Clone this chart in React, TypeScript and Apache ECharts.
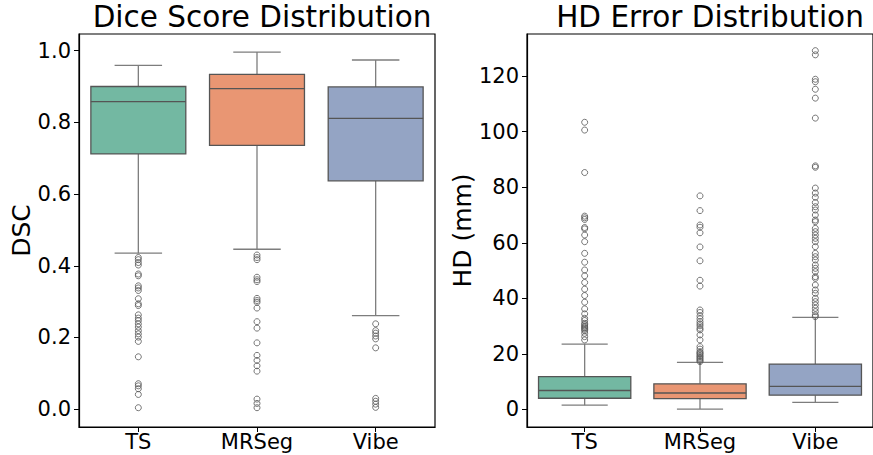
import React, { useEffect, useRef } from "react";
import * as echarts from "echarts";

const categories = ["TS", "MRSeg", "Vibe"];
const boxColors = ["#73b8a2", "#e99673", "#94a4c4"];

// [min whisker, Q1, median, Q3, max whisker]
const dscBoxes = [
  [0.435, 0.712, 0.858, 0.900, 0.959],
  [0.446, 0.736, 0.894, 0.934, 0.996],
  [0.261, 0.637, 0.811, 0.899, 0.974],
];
const dscOutliersTS = [0.423, 0.417, 0.409, 0.402, 0.377, 0.372, 0.344, 0.338, 0.331, 0.308, 0.294, 0.289, 0.263, 0.254, 0.247, 0.238, 0.229, 0.219, 0.210, 0.201, 0.189, 0.146, 0.071, 0.065, 0.057, 0.041, 0.004];
const dscOutliersMRSeg = [0.430, 0.423, 0.417, 0.368, 0.361, 0.356, 0.309, 0.303, 0.298, 0.282, 0.244, 0.226, 0.185, 0.150, 0.136, 0.121, 0.106, 0.028, 0.016, 0.004];
const dscOutliersVibe = [0.238, 0.219, 0.212, 0.204, 0.196, 0.171, 0.030, 0.022, 0.014, 0.005];

const hdBoxes = [
  [1.5, 4.0, 6.8, 11.8, 23.5],
  [0.1, 3.9, 5.9, 9.2, 16.9],
  [2.5, 5.1, 8.3, 16.3, 33.1],
];
const hdOutliersTS = [103.4, 100.6, 85.3, 69.6, 69.0, 68.4, 65.5, 65.0, 62.8, 60.4, 56.2, 53.0, 50.2, 48.1, 45.7, 43.3, 41.0, 38.6, 36.2, 34.4, 32.8, 32.0, 31.0, 30.5, 30.0, 29.6, 29.2, 28.8, 28.3, 27.4, 26.2, 25.0];
const hdOutliersMRSeg = [76.9, 71.6, 66.4, 65.6, 63.6, 58.5, 53.5, 46.5, 44.4, 35.8, 34.9, 33.6, 32.6, 31.6, 30.8, 30.1, 29.2, 28.6, 26.8, 25.0, 22.6, 21.7, 20.8, 20.3, 20.0, 19.4, 19.0, 18.5, 18.1, 17.6, 17.2];
const hdOutliersVibe = [129.2, 127.7, 118.9, 118.0, 115.3, 112.1, 104.9, 87.7, 87.2, 79.7, 77.9, 76.4, 74.5, 73.0, 71.8, 70.0, 68.2, 67.6, 65.2, 64.0, 62.8, 61.6, 60.4, 58.6, 56.2, 55.0, 53.8, 52.0, 50.8, 49.6, 47.8, 47.2, 44.8, 43.0, 41.8, 40.0, 38.8, 37.6, 36.4, 35.2, 34.0, 33.4];

const dscTicks = [0.0, 0.2, 0.4, 0.6, 0.8, 1.0];
const hdTicks = [0, 20, 40, 60, 80, 100, 120];

const FONT = "DejaVu Sans";
const LINE = "#555555";
const WHISKER = "#7d7d7d";

function boxRender(params: any, api: any) {
  const idx = api.value(0);
  const mn = api.value(1), q1 = api.value(2), med = api.value(3), q3 = api.value(4), mx = api.value(5);
  const band = api.size([1, 0])[0];
  const w = band * 0.8;
  const cx = api.coord([idx, med])[0];
  const yq1 = api.coord([idx, q1])[1];
  const yq3 = api.coord([idx, q3])[1];
  const ymed = api.coord([idx, med])[1];
  const ymin = api.coord([idx, mn])[1];
  const ymax = api.coord([idx, mx])[1];
  const ws = { stroke: WHISKER, lineWidth: 1.3 };
  return {
    type: "group",
    children: [
      { type: "line", shape: { x1: cx, y1: yq3, x2: cx, y2: ymax }, style: ws },
      { type: "line", shape: { x1: cx, y1: yq1, x2: cx, y2: ymin }, style: ws },
      { type: "line", shape: { x1: cx - w / 4, y1: ymax, x2: cx + w / 4, y2: ymax }, style: ws },
      { type: "line", shape: { x1: cx - w / 4, y1: ymin, x2: cx + w / 4, y2: ymin }, style: ws },
      { type: "rect", shape: { x: cx - w / 2, y: yq3, width: w, height: yq1 - yq3 }, style: { fill: boxColors[idx], stroke: LINE, lineWidth: 1.3 } },
      { type: "line", shape: { x1: cx - w / 2, y1: ymed, x2: cx + w / 2, y2: ymed }, style: { stroke: LINE, lineWidth: 1.3 } },
    ],
  };
}

function outlierData(lists: number[][]) {
  const out: number[][] = [];
  lists.forEach((arr, i) => arr.forEach((v) => out.push([i, v])));
  return out;
}

export default function App() {
  const ref = useRef<HTMLDivElement>(null);
  useEffect(() => {
    document.body.style.margin = "0";
    const chart = echarts.init(ref.current!, null, { renderer: "svg" });
    const xAxisBase = {
      type: "category" as const,
      data: categories,
      boundaryGap: true,
      axisLine: { show: true, onZero: false, lineStyle: { color: "#000", width: 1.2 } },
      axisTick: { show: true, alignWithLabel: true, length: 5, lineStyle: { color: "#000", width: 1 } },
      axisLabel: { fontSize: 21, color: "#000", fontFamily: FONT, margin: 4 },
      splitLine: { show: false },
    };
    const titleStyle = { fontSize: 29.5, fontWeight: "normal" as const, color: "#000", fontFamily: FONT };
    chart.setOption({
      animation: false,
      backgroundColor: "#fff",
      textStyle: { fontFamily: FONT },
      title: [
        { text: "Dice Score Distribution", left: 257, top: -3, textAlign: "center", textStyle: titleStyle },
        { text: "HD Error Distribution", left: 705, top: -3, textAlign: "center", textStyle: titleStyle },
      ],
      grid: [
        { left: 79, top: 34, width: 356, height: 393, show: true, borderColor: "#000", borderWidth: 1.2, backgroundColor: "transparent" },
        { left: 527, top: 34, width: 356, height: 393, show: true, borderColor: "#000", borderWidth: 1.2, backgroundColor: "transparent" },
      ],
      xAxis: [
        { ...xAxisBase, gridIndex: 0 },
        { ...xAxisBase, gridIndex: 1 },
      ],
      yAxis: [
        {
          type: "value", gridIndex: 0, min: -0.0498, max: 1.0465,
          name: "DSC", nameLocation: "middle", nameGap: 44,
          nameTextStyle: { fontSize: 25, color: "#000", fontFamily: FONT },
          axisLine: { show: true, onZero: false, lineStyle: { color: "#000", width: 1.2 } },
          axisTick: { show: true, length: 5, lineStyle: { color: "#000" }, customValues: dscTicks },
          axisLabel: { fontSize: 21, color: "#000", fontFamily: FONT, margin: 8, customValues: dscTicks, formatter: (v: number) => v.toFixed(1) },
          splitLine: { show: false },
        },
        {
          type: "value", gridIndex: 1, min: -6.35, max: 135.2,
          name: "HD (mm)", nameLocation: "middle", nameGap: 49,
          nameTextStyle: { fontSize: 25, color: "#000", fontFamily: FONT },
          axisLine: { show: true, onZero: false, lineStyle: { color: "#000", width: 1.2 } },
          axisTick: { show: true, length: 5, lineStyle: { color: "#000" }, customValues: hdTicks },
          axisLabel: { fontSize: 21, color: "#000", fontFamily: FONT, margin: 8, customValues: hdTicks, formatter: (v: number) => String(Math.round(v)) },
          splitLine: { show: false },
        },
      ],
      series: [
        {
          type: "custom", xAxisIndex: 0, yAxisIndex: 0, renderItem: boxRender,
          data: dscBoxes.map((b, i) => [i, ...b]), encode: { x: 0, y: [1, 2, 3, 4, 5] }, clip: false,
        },
        {
          type: "custom", xAxisIndex: 1, yAxisIndex: 1, renderItem: boxRender,
          data: hdBoxes.map((b, i) => [i, ...b]), encode: { x: 0, y: [1, 2, 3, 4, 5] }, clip: false,
        },
        {
          type: "scatter", xAxisIndex: 0, yAxisIndex: 0, symbol: "circle", symbolSize: 6,
          itemStyle: { color: "rgba(0,0,0,0)", borderColor: "#555", borderWidth: 1 },
          data: outlierData([dscOutliersTS, dscOutliersMRSeg, dscOutliersVibe]),
        },
        {
          type: "scatter", xAxisIndex: 1, yAxisIndex: 1, symbol: "circle", symbolSize: 6,
          itemStyle: { color: "rgba(0,0,0,0)", borderColor: "#555", borderWidth: 1 },
          data: outlierData([hdOutliersTS, hdOutliersMRSeg, hdOutliersVibe]),
        },
      ],
    });
    return () => chart.dispose();
  }, []);
  return <div ref={ref} style={{ width: 873, height: 455, position: "absolute", left: 0, top: 0, overflow: "hidden" }} />;
}
